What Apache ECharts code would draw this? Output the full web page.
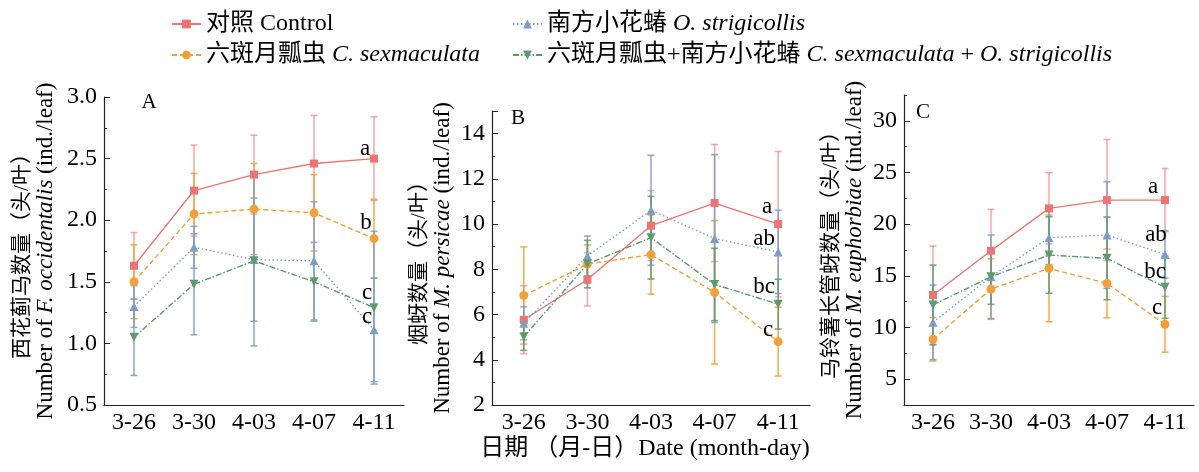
<!DOCTYPE html>
<html><head><meta charset="utf-8">
<script src="https://cdn.jsdelivr.net/npm/echarts@6/dist/echarts.min.js"></script>
<style>html,body{margin:0;padding:0;background:#fff}#c{width:1199px;height:472px}</style>
</head><body><div id="c"></div>
<script>
// ---- data ----
const dates = ['3-26', '3-30', '4-03', '4-07', '4-11'];
const seriesNames = ['对照 Control', '六斑月瓢虫 C. sexmaculata', '南方小花蝽 O. strigicollis', '六斑月瓢虫+南方小花蝽 C. sexmaculata + O. strigicollis'];
// Panel A: F. occidentalis
const A_ctrl = [1.63, 2.24, 2.37, 2.46, 2.50];
const A_ctrl_sd = [0.27, 0.37, 0.32, 0.39, 0.34];
const A_cs = [1.50, 2.05, 2.09, 2.06, 1.85];
const A_cs_sd = [0.30, 0.33, 0.37, 0.31, 0.32];
const A_os = [1.30, 1.78, 1.68, 1.67, 1.11];
const A_os_sd = [0.17, 0.17, 0.50, 0.48, 0.42];
const A_co = [1.05, 1.48, 1.67, 1.50, 1.29];
const A_co_sd = [0.31, 0.41, 0.69, 0.32, 0.62];
const A_letters = ['a', 'b', 'c', 'c'];
// Panel B: M. persicae
const B_ctrl = [5.77, 7.55, 9.93, 10.93, 10.00];
const B_ctrl_sd = [1.50, 1.17, 1.55, 2.59, 3.21];
const B_cs = [6.84, 8.23, 8.65, 6.98, 4.80];
const B_cs_sd = [2.15, 0.85, 1.75, 3.17, 1.52];
const B_os = [5.61, 8.59, 10.61, 9.36, 8.77];
const B_os_sd = [0.73, 0.88, 2.43, 3.71, 1.84];
const B_co = [5.02, 8.23, 9.40, 7.33, 6.46];
const B_co_sd = [0.60, 1.05, 1.83, 1.60, 1.10];
const B_letters = ['a', 'c', 'ab', 'bc'];
// Panel C: M. euphorbiae
const C_ctrl = [13.14, 17.43, 21.53, 22.33, 22.33];
const C_ctrl_sd = [4.74, 4.00, 3.44, 5.87, 3.06];
const C_cs = [8.86, 13.72, 15.72, 14.27, 10.31];
const C_cs_sd = [2.10, 2.93, 5.16, 3.32, 2.70];
const C_os = [10.50, 14.91, 18.69, 18.95, 17.07];
const C_os_sd = [3.60, 4.04, 2.60, 5.15, 2.30];
const C_co = [12.18, 14.91, 17.01, 16.69, 13.89];
const C_co_sd = [3.86, 2.67, 3.70, 4.00, 3.00];
const C_letters = ['a', 'c', 'ab', 'bc'];
// axis tick labels
const A_ticks = [0.5, 1.0, 1.5, 2.0, 2.5, 3.0];
const B_ticks = [2, 4, 6, 8, 10, 12, 14];
const C_ticks = [5, 10, 15, 20, 25, 30];

// ---- styles ----
const FONT = '"Liberation Serif", "Noto Sans CJK SC", serif';
const lineColors = ['#ec7574', '#f4a03a', '#7f9dc4', '#5e9a6f'];
const errColors = ['rgba(236,117,116,0.6)', 'rgba(244,160,58,0.85)', 'rgba(127,157,196,0.85)', 'rgba(94,154,111,0.85)'];
const lineTypes = ['solid', [5, 3], [1.5, 2.5], [6, 2, 1.5, 2]];
const symbols = ['rect', 'circle', 'triangle', 'path://M0,0 L10,0 L5,9 Z'];
const symSizes = [8, 9, 9, 9];

const panels = [
  {means: [A_ctrl, A_cs, A_os, A_co], sds: [A_ctrl_sd, A_cs_sd, A_os_sd, A_co_sd], letters: A_letters,
   offs: [[-9, -10], [-8, -16], [-7, -13], [-7, -15]], errOverride: {3: errColors[2]}},
  {means: [B_ctrl, B_cs, B_os, B_co], sds: [B_ctrl_sd, B_cs_sd, B_os_sd, B_co_sd], letters: B_letters,
   offs: [[-11, -17], [-10, -12], [-14, -13], [-14, -17]], errOverride: {}},
  {means: [C_ctrl, C_cs, C_os, C_co], sds: [C_ctrl_sd, C_cs_sd, C_os_sd, C_co_sd], letters: C_letters,
   offs: [[-12, -13], [-8, -16], [-9, -19], [-10, -15]], errOverride: {}}
];

const grids = [
  {left: 104, top: 97, width: 300, height: 308},
  {left: 492, top: 111, width: 318, height: 294},
  {left: 904, top: 95, width: 290, height: 310}
];

function errRender(color) {
  return function (params, api) {
    const x = api.value(0);
    const lo = api.coord([x, api.value(1)]);
    const hi = api.coord([x, api.value(2)]);
    const hw = 3.5;
    const st = {stroke: color, lineWidth: 1.6};
    return {type: 'group', children: [
      {type: 'line', shape: {x1: lo[0], y1: lo[1], x2: hi[0], y2: hi[1]}, style: st},
      {type: 'line', shape: {x1: hi[0] - hw, y1: hi[1], x2: hi[0] + hw, y2: hi[1]}, style: st},
      {type: 'line', shape: {x1: lo[0] - hw, y1: lo[1], x2: lo[0] + hw, y2: lo[1]}, style: st}
    ]};
  };
}

const axisLabelStyle = {color: '#000', fontFamily: FONT, fontSize: 24};
const xAxes = grids.map((g, i) => ({
  type: 'category', gridIndex: i, data: dates, boundaryGap: true,
  axisLine: {lineStyle: {color: '#222', width: 1.2}},
  axisTick: {inside: true, alignWithLabel: true, length: 6, lineStyle: {color: '#222'}},
  axisLabel: Object.assign({margin: 6}, axisLabelStyle),
  splitLine: {show: false}
}));

function yName(zh, it) {
  return '{zh|' + zh + '}\n{en|Number of }{it|' + it + '}{en| (ind./leaf)}';
}
const nameRich = {
  zh: {fontFamily: FONT, fontSize: 21, color: '#000', lineHeight: 24},
  en: {fontFamily: FONT, fontSize: 23, color: '#000', lineHeight: 24},
  it: {fontFamily: FONT, fontSize: 23, color: '#000', fontStyle: 'italic', lineHeight: 24}
};
const yBase = {
  type: 'value', nameLocation: 'middle',
  nameTextStyle: {rich: nameRich},
  axisLine: {show: true, lineStyle: {color: '#222', width: 1.2}},
  axisTick: {show: true, inside: true, length: 6, lineStyle: {color: '#222'}},
  axisLabel: Object.assign({margin: 7}, axisLabelStyle),
  splitLine: {show: false}
};
const yAxes = [
  Object.assign({}, yBase, {gridIndex: 0, min: A_ticks[0], max: A_ticks[A_ticks.length - 1], interval: 0.5,
    name: yName('西花蓟马数量（头/叶）', 'F. occidentalis'), nameGap: 46,
    minorTick: {show: true, splitNumber: 2, length: 3, lineStyle: {color: '#222'}},
    axisLabel: Object.assign({margin: 7, formatter: v => v.toFixed(1)}, axisLabelStyle)}),
  Object.assign({}, yBase, {gridIndex: 1, min: B_ticks[0], max: 15, interval: 2,
    name: yName('烟蚜数量（头/叶）', 'M. persicae'), nameGap: 37,
    minorTick: {show: true, splitNumber: 2, length: 3, lineStyle: {color: '#222'}},
    axisLabel: Object.assign({margin: 7, showMaxLabel: false, formatter: v => (B_ticks.indexOf(v) >= 0 ? String(v) : '')}, axisLabelStyle)}),
  Object.assign({}, yBase, {gridIndex: 2, min: 2.5, max: 32.5, interval: 2.5,
    name: yName('马铃薯长管蚜数量（头/叶）', 'M. euphorbiae'), nameGap: 37,
    axisTick: {show: true, inside: true, length: 6, customValues: C_ticks, lineStyle: {color: '#222'}},
    axisLabel: Object.assign({margin: 7, formatter: v => (C_ticks.indexOf(v) >= 0 ? String(v) : '')}, axisLabelStyle)}),
  {type: 'value', gridIndex: 2, position: 'left', min: 2.5, max: 32.5, interval: 2.5,
    axisLine: {show: false}, axisLabel: {show: false}, splitLine: {show: false},
    axisTick: {show: true, inside: true, length: 3, lineStyle: {color: '#222'}}}
];

const series = [];
panels.forEach((p, gi) => {
  p.means.forEach((m, si) => {
    const sd = p.sds[si];
    const ec = p.errOverride[si] || errColors[si];
    series.push({
      type: 'custom', name: 'err' + gi + si, xAxisIndex: gi, yAxisIndex: gi, z: 2,
      renderItem: errRender(ec), silent: true,
      encode: {x: 0, y: [1, 2]},
      data: m.map((v, i) => [i, v - sd[i], v + sd[i]])
    });
  });
});
panels.forEach((p, gi) => {
  p.means.forEach((m, si) => {
    series.push({
      type: 'line', name: seriesNames[si], xAxisIndex: gi, yAxisIndex: gi, z: 3,
      data: m, symbol: symbols[si], symbolSize: symSizes[si], showAllSymbol: true,
      itemStyle: {color: lineColors[si]},
      lineStyle: {color: lineColors[si], width: 1.4, type: lineTypes[si]},
      label: {show: true, position: 'inside', offset: p.offs[si], color: '#000',
        fontFamily: FONT, fontSize: 23, align: 'center', verticalAlign: 'middle',
        formatter: (q) => (q.dataIndex === m.length - 1 ? p.letters[si] : '')},
      animation: false
    });
  });
});

const legendRich = {i: {fontFamily: FONT, fontSize: 24, fontStyle: 'italic', color: '#000'}};
const legendFmt = {};
legendFmt[seriesNames[0]] = '对照 Control';
legendFmt[seriesNames[1]] = '六斑月瓢虫 {i|C. sexmaculata}';
legendFmt[seriesNames[2]] = '南方小花蝽 {i|O. strigicollis}';
legendFmt[seriesNames[3]] = '六斑月瓢虫+南方小花蝽 {i|C. sexmaculata} + {i|O. strigicollis}';
const legendBase = {
  orient: 'vertical', itemWidth: 29, itemHeight: 11, itemGap: 7, selectedMode: false,
  textStyle: {fontFamily: FONT, fontSize: 24, color: '#000', rich: legendRich},
  formatter: n => legendFmt[n]
};

const option = {
  animation: false,
  backgroundColor: '#fff',
  grid: grids,
  xAxis: xAxes,
  yAxis: yAxes,
  legend: [
    Object.assign({}, legendBase, {data: [seriesNames[0], seriesNames[1]], left: 166, top: 7}),
    Object.assign({}, legendBase, {data: [seriesNames[2], seriesNames[3]], left: 507, top: 7})
  ],
  graphic: [
    {type: 'text', x: 149, y: 102, style: {text: 'A', font: '21px ' + FONT, fill: '#000', align: 'center', verticalAlign: 'middle'}},
    {type: 'text', x: 518, y: 118, style: {text: 'B', font: '21px ' + FONT, fill: '#000', align: 'center', verticalAlign: 'middle'}},
    {type: 'text', x: 923, y: 112, style: {text: 'C', font: '21px ' + FONT, fill: '#000', align: 'center', verticalAlign: 'middle'}},
    {type: 'text', x: 645, y: 449, style: {text: '日期 （月-日）Date (month-day)', font: '24px ' + FONT, fill: '#000', align: 'center', verticalAlign: 'middle'}}
  ],
  series: series
};
const chart = echarts.init(document.getElementById('c'), null, {renderer: 'canvas'});
chart.setOption(option);
</script></body></html>
